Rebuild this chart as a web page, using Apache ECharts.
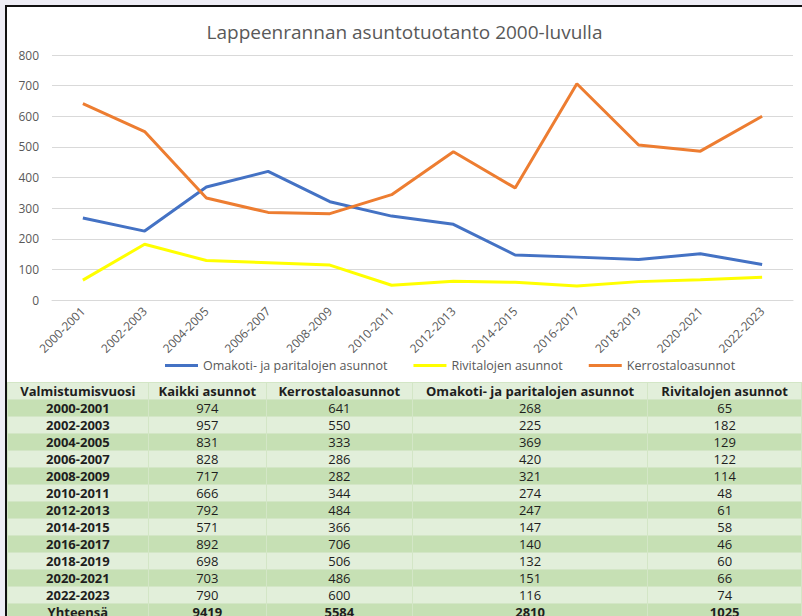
<!DOCTYPE html>
<html>
<head>
<meta charset="utf-8">
<script src="https://cdn.jsdelivr.net/npm/echarts@6/dist/echarts.min.js"></script>
<style>
  html, body { margin: 0; padding: 0; }
  body { width: 802px; height: 616px; overflow: hidden; background: #eeedf5; position: relative; }
  .frame { position: absolute; left: 5px; top: 5px; width: 830px; height: 640px;
           border-left: 2px solid #111; border-top: 2px solid #111; background: #fff; }
  #chart { position: absolute; left: 7px; top: 7px; width: 795px; height: 372px; }
  #tbl { position: absolute; left: 7px; top: 382px; border-collapse: collapse; table-layout: fixed;
         font-family: "Open Sans", sans-serif; font-size: 13px; color: #1e1e1e; }
  #tbl td, #tbl th { height: 16px; line-height: 16px; padding: 0; text-align: center;
                     border: 1px solid #d3e6c6; white-space: nowrap; overflow: hidden; }
  #tbl th { font-weight: bold; background: #e2efda; }
  #tbl tr.dark td { background: #c6e0b4; }
  #tbl tr.light td { background: #e2efda; }
  #tbl td.b, #tbl tr.sum td { font-weight: bold; }
</style>
</head>
<body>
<div class="frame"></div>
<div id="chart"></div>
<table id="tbl"></table>
<script>
// 2000-luvun asuntotuotanto, kaksivuotisjaksot
const years = ["2000-2001", "2002-2003", "2004-2005", "2006-2007", "2008-2009", "2010-2011",
               "2012-2013", "2014-2015", "2016-2017", "2018-2019", "2020-2021", "2022-2023"];
const kaikki = [974, 957, 831, 828, 717, 666, 792, 571, 892, 698, 703, 790];
const kerrostalo = [641, 550, 333, 286, 282, 344, 484, 366, 706, 506, 486, 600];
const omakoti = [268, 225, 369, 420, 321, 274, 247, 147, 140, 132, 151, 116];
const rivitalo = [65, 182, 129, 122, 114, 48, 61, 58, 46, 60, 66, 74];
const yhteensa = ["Yhteensä", 9419, 5584, 2810, 1025];
const otsikot = ["Valmistumisvuosi", "Kaikki asunnot", "Kerrostaloasunnot",
                 "Omakoti- ja paritalojen asunnot", "Rivitalojen asunnot"];

const chart = echarts.init(document.getElementById("chart"), null, { renderer: "svg" });

const options = {
  animation: false,
  textStyle: { fontFamily: "Open Sans" },
  title: {
    text: "Lappeenrannan asuntotuotanto 2000-luvulla",
    left: "center",
    top: 10,
    textStyle: { fontSize: 19, fontWeight: "normal", color: "#595959", fontFamily: "Open Sans" },
  },
  legend: {
    left: 153,
    top: 347,
    itemGap: 26,
    icon: "rect",
    itemWidth: 33,
    itemHeight: 3,
    textStyle: { fontSize: 12.5, color: "#595959" },
    data: ["Omakoti- ja paritalojen asunnot", "Rivitalojen asunnot", "Kerrostaloasunnot"],
  },
  grid: { left: 45, right: 9, top: 48, bottom: 79 },
  xAxis: {
    type: "category",
    data: years,
    axisLine: { lineStyle: { color: "#d9d9d9" } },
    axisTick: { show: false },
    axisLabel: { rotate: 45, fontSize: 12, color: "#595959", margin: 9, interval: 0 },
  },
  yAxis: {
    type: "value",
    min: 0,
    max: 800,
    interval: 100,
    axisLine: { show: false },
    axisTick: { show: false },
    axisLabel: { fontSize: 12, color: "#595959", margin: 13 },
    splitLine: { lineStyle: { color: "#d9d9d9" } },
  },
  series: [
    {
      name: "Omakoti- ja paritalojen asunnot",
      type: "line",
      data: omakoti,
      symbol: "none",
      lineStyle: { width: 3, color: "#4472c4" },
      itemStyle: { color: "#4472c4" },
    },
    {
      name: "Rivitalojen asunnot",
      type: "line",
      data: rivitalo,
      symbol: "none",
      lineStyle: { width: 3, color: "#ffff00" },
      itemStyle: { color: "#ffff00" },
    },
    {
      name: "Kerrostaloasunnot",
      type: "line",
      data: kerrostalo,
      symbol: "none",
      lineStyle: { width: 3, color: "#ed7d31" },
      itemStyle: { color: "#ed7d31" },
    },
  ],
};
chart.setOption(options);

// taulukko
const colW = [143, 120, 148, 238, 156];
const tbl = document.getElementById("tbl");
let html = "<colgroup>" + colW.map(w => `<col style="width:${w}px">`).join("") + "</colgroup>";
html += "<tr>" + otsikot.map(t => `<th>${t}</th>`).join("") + "</tr>";
years.forEach((y, i) => {
  const cls = i % 2 === 0 ? "dark" : "light";
  html += `<tr class="${cls}"><td class="b">${y}</td><td>${kaikki[i]}</td><td>${kerrostalo[i]}</td>` +
          `<td>${omakoti[i]}</td><td>${rivitalo[i]}</td></tr>`;
});
html += '<tr class="dark sum">' + yhteensa.map(v => `<td>${v}</td>`).join("") + "</tr>";
tbl.innerHTML = html;
</script>
</body>
</html>
